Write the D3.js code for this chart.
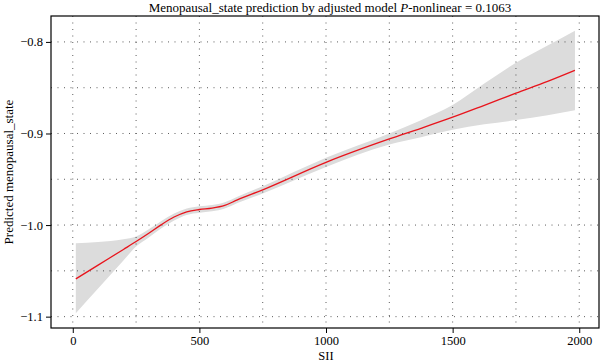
<!DOCTYPE html>
<html>
<head>
<meta charset="utf-8">
<script src="https://cdn.jsdelivr.net/npm/d3@7"></script>
<style>
  body { margin: 0; background: #fff; }
  svg { font-family: "Liberation Serif", "DejaVu Serif", serif; }
</style>
</head>
<body>
<svg id="drawing_region"></svg>
<script>
// SII values and fitted prediction with its confidence band
const sii   = [12, 100, 200, 250, 300, 350, 400, 450, 500, 550, 600, 650, 750, 1000, 1250, 1375, 1500, 1625, 1750, 1875, 1983];
const fit   = [-1.0588, -1.0437, -1.0266, -1.018, -1.009, -0.9995, -0.9912, -0.9855, -0.983, -0.9815, -0.9785, -0.9725, -0.9615, -0.9315, -0.906, -0.8943, -0.8822, -0.8692, -0.856, -0.8432, -0.8311];
const lower = [-1.0963, -1.0693, -1.0387, -1.0234, -1.0135, -1.0035, -0.995, -0.989, -0.9866, -0.985, -0.982, -0.976, -0.9655, -0.9365, -0.912, -0.904, -0.896, -0.890, -0.8854, -0.880, -0.8745];
const upper = [-1.0198, -1.0185, -1.0155, -1.0125, -1.0045, -0.9955, -0.9874, -0.982, -0.9794, -0.978, -0.975, -0.969, -0.9575, -0.9265, -0.900, -0.8855, -0.869, -0.8455, -0.8228, -0.804, -0.7878];

const xTicks = [0, 500, 1000, 1500, 2000];
const xMinor = [250, 750, 1250, 1750];
const yTicks = [-0.8, -0.9, -1.0, -1.1];
const yMinor = [-0.85, -0.95, -1.05];

const data = sii.map((x, i) => ({x: x, y: fit[i], lo: lower[i], hi: upper[i]}));

const width = 600, height = 363;
const margin = {top: 16, right: 1, bottom: 35, left: 51};
const innerW = width - margin.left - margin.right;
const innerH = height - margin.top - margin.bottom;

const svg = d3.select('#drawing_region')
    .attr('width', width)
    .attr('height', height);

const chart = svg.append('g')
    .attr('transform', `translate(${margin.left},${margin.top})`);

const xscale = d3.scaleLinear().domain([-86, 2078]).range([0, innerW]);
const yscale = d3.scaleLinear().domain([-1.1124, -0.7717]).range([innerH, 0]);

// confidence band
chart.append('path')
    .datum(data)
    .attr('fill', '#dcdcdc')
    .attr('d', d3.area()
        .x(d => xscale(d.x))
        .y0(d => yscale(d.lo))
        .y1(d => yscale(d.hi))
        .curve(d3.curveMonotoneX));

// dotted grid
const gridColor = '#333';
chart.selectAll('.vgrid')
    .data(xTicks.concat(xMinor))
    .enter().append('line')
    .attr('x1', d => xscale(d)).attr('x2', d => xscale(d))
    .attr('y1', 0).attr('y2', innerH)
    .attr('stroke', gridColor)
    .attr('stroke-width', 0.8)
    .attr('stroke-dasharray', '1,5.5');

chart.selectAll('.hgrid')
    .data(yTicks.concat(yMinor))
    .enter().append('line')
    .attr('y1', d => yscale(d)).attr('y2', d => yscale(d))
    .attr('x1', 0).attr('x2', innerW)
    .attr('stroke', gridColor)
    .attr('stroke-width', 0.8)
    .attr('stroke-dasharray', '1,5.5');

// fitted line
chart.append('path')
    .datum(data)
    .attr('fill', 'none')
    .attr('stroke', '#e8141c')
    .attr('stroke-width', 1.3)
    .attr('d', d3.line()
        .x(d => xscale(d.x))
        .y(d => yscale(d.y))
        .curve(d3.curveMonotoneX));

// frame
chart.append('rect')
    .attr('x', 0).attr('y', 0)
    .attr('width', innerW).attr('height', innerH)
    .attr('fill', 'none')
    .attr('stroke', '#000')
    .attr('stroke-width', 1.2);

// axes
const xaxis = d3.axisBottom(xscale)
    .tickValues(xTicks)
    .tickFormat(d3.format('d'))
    .tickSize(5)
    .tickPadding(3)
    .tickSizeOuter(0);
const xaxis_group = chart.append('g')
    .attr('transform', `translate(0,${innerH})`)
    .call(xaxis);

const yaxis = d3.axisLeft(yscale)
    .tickValues(yTicks)
    .tickFormat(d3.format('.1f'))
    .tickSize(5)
    .tickPadding(3)
    .tickSizeOuter(0);
const yaxis_group = chart.append('g').call(yaxis);

[xaxis_group, yaxis_group].forEach(g => {
    g.select('.domain').remove();
    g.selectAll('text')
        .attr('font-family', '"Liberation Serif", "DejaVu Serif", serif')
        .attr('font-size', 12.5)
        .attr('fill', '#000');
    g.selectAll('line').attr('stroke', '#000');
});

// title
const title = svg.append('text')
    .attr('x', margin.left + innerW / 2 + 5)
    .attr('y', 12)
    .attr('text-anchor', 'middle')
    .attr('font-size', 13);
title.append('tspan').text('Menopausal_state prediction by adjusted model ');
title.append('tspan').attr('font-style', 'italic').text('P');
title.append('tspan').text('-nonlinear = 0.1063');

svg.append('text')
    .attr('x', xscale(1000) + margin.left)
    .attr('y', 360)
    .attr('text-anchor', 'middle')
    .attr('font-size', 12.5)
    .text('SII');

svg.append('text')
    .attr('transform', `translate(13,${margin.top + innerH / 2}) rotate(-90)`)
    .attr('text-anchor', 'middle')
    .attr('font-size', 13)
    .text('Predicted menopausal_state');
</script>
</body>
</html>
